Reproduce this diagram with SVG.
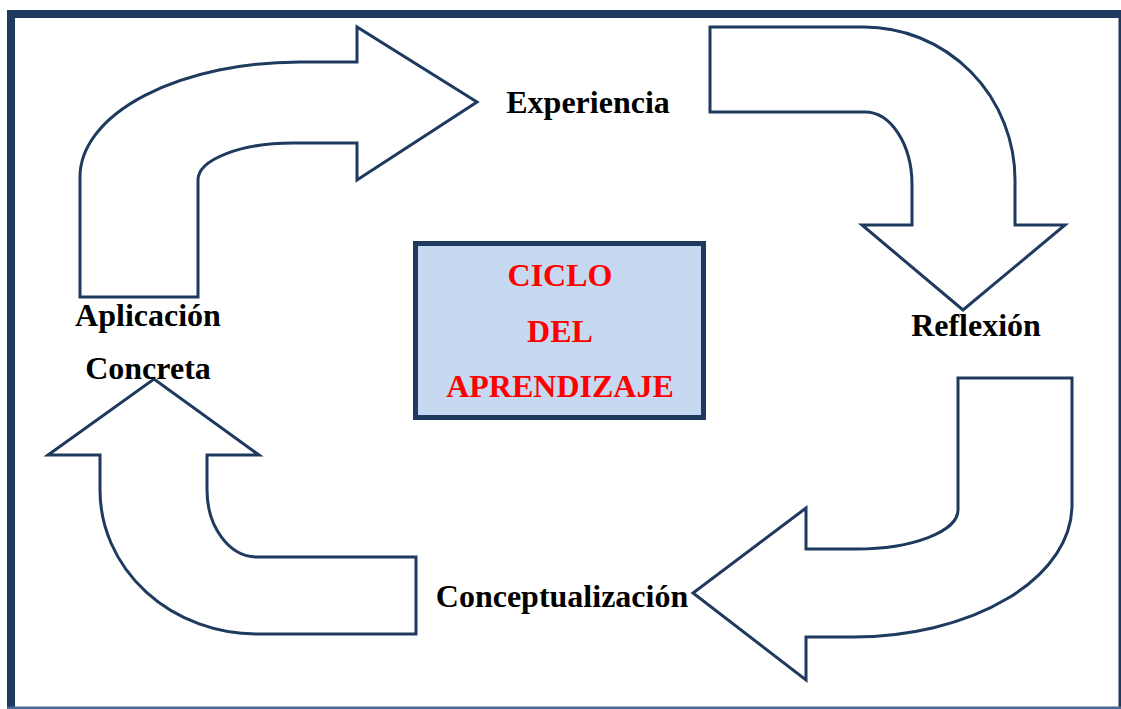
<svg xmlns="http://www.w3.org/2000/svg" width="1121" height="709" viewBox="0 0 1121 709">
<style>
.frame{fill:#1F3A5F;}
.arrow{fill:#FFFFFF;stroke:#1F3A5F;stroke-width:3;stroke-linejoin:miter;}
.lbl{font-family:"Liberation Serif","Times New Roman",serif;font-weight:bold;font-size:32px;fill:#000000;text-anchor:middle;}
.title{font-family:"Liberation Serif","Times New Roman",serif;font-weight:bold;font-size:32px;fill:#FF0000;text-anchor:middle;}
.box{fill:#C6D9F1;stroke:#1F3A5F;stroke-width:5;}
</style>
<rect x="0" y="0" width="1121" height="709" fill="#FFFFFF"/>
<g id="frame">
<rect class="frame" x="7" y="10" width="1114" height="8"/>
<rect class="frame" x="7" y="10" width="8" height="699"/>
<rect class="frame" x="1118.5" y="10" width="2.5" height="699"/>
<rect x="7" y="706.5" width="1114" height="2.5" fill="#4A6A96"/>
</g>
<g id="connectors">
<path id="arrow-aplicacion-experiencia" class="arrow" d="M80,297 L80,177 A220,115 0 0 1 300,62 L357,62 L357,27 L477,102 L357,180 L357,143 L293,143 A95,37 0 0 0 198,180 L198,297 Z"/>
<path id="arrow-experiencia-reflexion" class="arrow" d="M710,27 L864,27 A151,153 0 0 1 1015,180 L1015,225 L1065,225 L963,310 L862,225 L912,225 L912,185 A47,73 0 0 0 865,112 L710,112 Z"/>
<path id="arrow-reflexion-conceptualizacion" class="arrow" d="M958,378 L1072,378 L1072,505 A219,132 0 0 1 853,637 L806,637 L806,680 L693,593 L806,508 L806,549 L856,549 A102,39 0 0 0 958,510 Z"/>
<path id="arrow-conceptualizacion-aplicacion" class="arrow" d="M416,557 L416,634 L257,634 A157,144 0 0 1 100,490 L100,455 L48,455 L154,379 L259,455 L207,455 L207,490 A50,67 0 0 0 257,557 Z"/>
</g>
<g id="node-ciclo">
<rect class="box" x="415.5" y="243.5" width="288" height="174"/>
<text class="title" x="560" y="286">CICLO</text>
<text class="title" x="560" y="342">DEL</text>
<text class="title" x="560" y="397">APRENDIZAJE</text>
</g>
<g id="node-experiencia">
<text class="lbl" x="588" y="113">Experiencia</text>
</g>
<g id="node-reflexion">
<text class="lbl" x="976" y="336">Reflexión</text>
</g>
<g id="node-conceptualizacion">
<text class="lbl" x="562" y="607">Conceptualización</text>
</g>
<g id="node-aplicacion">
<text class="lbl" x="148" y="326">Aplicación</text>
<text class="lbl" x="148" y="379">Concreta</text>
</g>
</svg>
